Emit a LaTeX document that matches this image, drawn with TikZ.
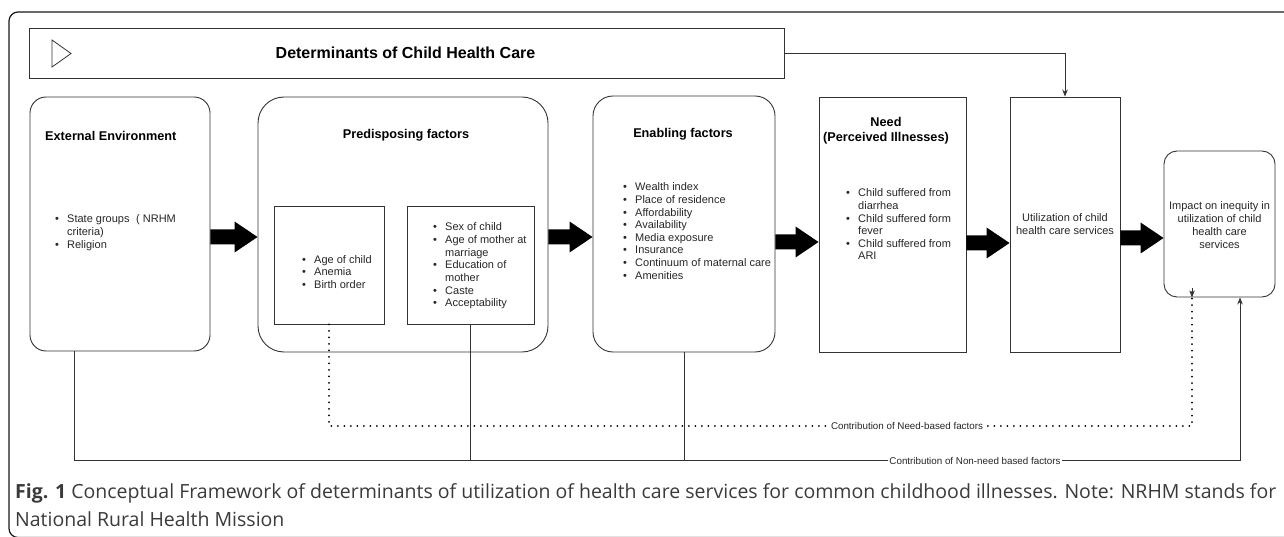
\documentclass[tikz,border=0pt]{standalone}
\usepackage{fontspec}
\setmainfont{Liberation Sans}
\newfontfamily\capfont{Open Sans}
\usetikzlibrary{arrows.meta,calc}
\definecolor{ln}{HTML}{333333}
\definecolor{captxt}{HTML}{3A3A3A}
\newcommand\bl{\makebox[12pt][l]{\textbullet}}
\newcommand\blkarrow[2]{\fill[black] ($(#1)+(0,-7.5)$) -- ($(#2)+(-23,-7.5)$) -- ($(#2)+(-23,-15.5)$) -- (#2) -- ($(#2)+(-23,15.5)$) -- ($(#2)+(-23,7.5)$) -- ($(#1)+(0,7.5)$) -- cycle;}
\begin{document}
\begin{tikzpicture}[x=1pt,y=-1pt,
  box/.style={draw=ln, line width=0.9pt, inner sep=0pt},
  ttl/.style={font=\bfseries\fontsize{12.7}{15}\selectfont, inner sep=0pt, anchor=base},
  lst/.style={font=\fontsize{11}{12.6}\selectfont, text=black!85, inner sep=0pt, anchor=base west},
  ctr/.style={font=\fontsize{11}{12.7}\selectfont, text=black!85, inner sep=0pt, anchor=base},
  conn/.style={draw=ln, line width=0.8pt},
  tip/.style={-{Stealth[length=7pt,width=5.5pt]}},
  dotln/.style={draw=black, line width=2pt, dash pattern=on 0pt off 6.5pt, line cap=round},
  lbl/.style={fill=white, inner sep=1pt, font=\fontsize{9.8}{11}\selectfont, text=black!85}]
\useasboundingbox (0,0) rectangle (1284,537);
% outer frame
\draw[rounded corners=9pt, line width=1.2pt, draw=black!90] (9,12) rectangle (1310,537.5);
% title box
\node[box, minimum width=755pt, minimum height=50pt] (title) at (406.5,53) {};
\draw[draw=ln, line width=0.8pt, line join=miter] (52,40) -- (71,53.5) -- (52,67) -- cycle;
\node[font=\bfseries\fontsize{16}{18}\selectfont, inner sep=0pt, anchor=base] (titletxt) at (405.5,58.7) {Determinants of Child Health Care};
% boxes
\node[box, rounded corners=16pt, minimum width=180pt, minimum height=254pt] (ext) at (120,224) {};
\node[box, rounded corners=26pt, minimum width=290pt, minimum height=255pt] (pre) at (403,224.5) {};
\node[box, minimum width=110pt, minimum height=118pt] (in1) at (329,265) {};
\node[box, minimum width=127pt, minimum height=118pt] (in2) at (470.5,265) {};
\node[box, rounded corners=20pt, minimum width=182pt, minimum height=256pt] (ena) at (684,224) {};
\node[box, minimum width=147pt, minimum height=255pt] (need) at (892.5,224.5) {};
\node[box, minimum width=110pt, minimum height=255pt] (util) at (1065,224.5) {};
\node[box, rounded corners=13pt, minimum width=111pt, minimum height=146pt] (imp) at (1219.5,224) {};
% titles
\node[ttl, anchor=base west] (extt) at (45,140.5) {External Environment};
\node[ttl] (pret) at (406,138.5) {Predisposing factors};
\node[ttl] (enat) at (683,137.5) {Enabling factors};
\node[ttl] (needt) at (886,126.5) {\begin{tabular}[t]{@{}c@{}}Need\\(Perceived Illnesses)\end{tabular}};
% lists
\node[lst] (extl) at (55,223) {\begin{tabular}[t]{@{}l@{}l@{}}\bl&State groups\hspace{0.6em}( NRHM\\&criteria)\\\bl&Religion\end{tabular}};
\node[lst] (in1l) at (302,263) {\begin{tabular}[t]{@{}l@{}l@{}}\bl&Age of child\\\bl&Anemia\\\bl&Birth order\end{tabular}};
\node[lst] (in2l) at (433,231) {\begin{tabular}[t]{@{}l@{}l@{}}\bl&Sex of child\\\bl&Age of mother at\\&marriage\\\bl&Education of\\&mother\\\bl&Caste\\\bl&Acceptability\end{tabular}};
\node[lst] (enal) at (623,191) {\begin{tabular}[t]{@{}l@{}l@{}}\bl&Wealth index\\\bl&Place of residence\\\bl&Affordability\\\bl&Availability\\\bl&Media exposure\\\bl&Insurance\\\bl&Continuum of maternal care\\\bl&Amenities\end{tabular}};
\node[lst] (needl) at (846,197) {\begin{tabular}[t]{@{}l@{}l@{}}\bl&Child suffered from\\&diarrhea\\\bl&Child suffered form\\&fever\\\bl&Child suffered from\\&ARI\end{tabular}};
\node[ctr] (utilt) at (1065,222) {\begin{tabular}[t]{@{}c@{}}Utilization of child\\health care services\end{tabular}};
\node[ctr] (impt) at (1219.5,210) {\begin{tabular}[t]{@{}c@{}}Impact on inequity in\\utilization of child\\health care\\services\end{tabular}};
% block arrows
\coordinate (a1s) at (ext.east |- 0,237);  \coordinate (a1e) at (pre.west |- 0,237);
\coordinate (a2s) at (pre.east |- 0,237);  \coordinate (a2e) at (ena.west |- 0,237);
\coordinate (a3s) at (ena.east |- 0,242);  \coordinate (a3e) at (need.west |- 0,242);
\coordinate (a4s) at (need.east |- 0,243); \coordinate (a4e) at (util.west |- 0,243);
\coordinate (a5s) at (util.east |- 0,238); \coordinate (a5e) at (imp.west |- 0,238);
\blkarrow{a1s}{a1e}
\blkarrow{a2s}{a2e}
\blkarrow{a3s}{a3e}
\blkarrow{a4s}{a4e}
\blkarrow{a5s}{a5e}
% title to utilization
\draw[conn, tip] (title.east) -| (util.north);
% bottom connectors
\coordinate (needrow) at (0,426);
\coordinate (nonrow) at (0,460);
\coordinate (extdrop) at ([xshift=-46pt]ext.south);
\coordinate (impdot) at ([xshift=-27.5pt]imp.south);
\coordinate (impsol) at ([xshift=20.5pt]imp.south);
\draw[conn, tip] (extdrop) -- (extdrop |- nonrow) -- (impsol |- nonrow) -- (impsol);
\draw[conn] (in2.south) -- (in2.south |- nonrow);
\draw[conn] (ena.south) -- (ena.south |- nonrow);
\draw[dotln] (in1.south) -- (in1.south |- needrow) -- (impdot |- needrow) -- ([yshift=8pt]impdot);
\draw[conn, tip] ([yshift=9pt]impdot) -- (impdot);
\node[lbl] (needlbl) at (907,426) {Contribution of Need-based factors};
\node[lbl] (nonlbl) at (975,461) {Contribution of Non-need based factors};
% caption
\node[font=\capfont\fontsize{19.5}{28}\selectfont, text=captxt, inner sep=0pt, anchor=base west] (cap) at (15,498) {\begin{tabular}[t]{@{}l@{}}\textbf{Fig. 1} Conceptual Framework of determinants of utilization of health care services for common childhood illnesses. Note: NRHM stands for\\National Rural Health Mission\end{tabular}};
\end{tikzpicture}
\end{document}
